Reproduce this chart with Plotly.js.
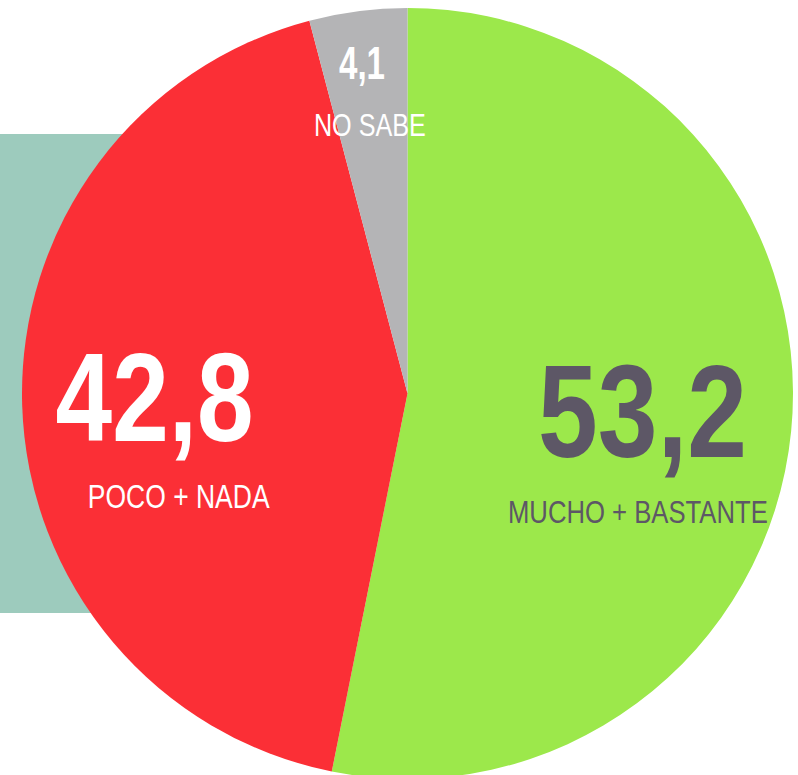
<!DOCTYPE html>
<html>
<head>
<meta charset="utf-8">
<script src="https://cdn.plot.ly/plotly-3.0.1.min.js"></script>
<style>
html,body{margin:0;padding:0;overflow:hidden;background:#fff;}
#chart{width:798px;height:787px;}
</style>
</head>
<body>
<div id="chart"></div>
<script>
const labels = ["MUCHO + BASTANTE", "POCO + NADA", "NO SABE"];
const values = [53.2, 42.8, 4.1];
const valueLabels = ["53,2", "42,8", "4,1"];
const colors = ["#9ce84b", "#fb2f36", "#b4b4b6"];

const W = 798, H = 787;
const ML = 22, MR = 5;
const FONT = "'Liberation Sans', Arial, sans-serif";
function px(x){return (x - ML)/(W - ML - MR);}
function py(y){return (H-y)/H;}

const trace = {
  type: "pie",
  labels: labels,
  values: values,
  marker: {colors: colors, line: {width: 0}},
  sort: false,
  direction: "clockwise",
  rotation: 0,
  textinfo: "none",
  hoverinfo: "label+value",
  domain: {x: [0, 1], y: [0, 1]},
  showlegend: false
};

// styling: position (px), font size, colour, target rendered width (px)
const bigStyle = [
  {x: 642, y: 412, size: 132, color: "#5d5766", w: 209},
  {x: 154, y: 397, size: 127, color: "#ffffff", w: 198},
  {x: 362, y: 63, size: 46, color: "#ffffff", w: 46}
];
const smallStyle = [
  {x: 638, y: 512, size: 31, color: "#5d5766", w: 260},
  {x: 179, y: 496, size: 34, color: "#ffffff", w: 182},
  {x: 370, y: 126, size: 31, color: "#ffffff", w: 112}
];

const annotations = [];
const targetWidths = [];
for (let i = 0; i < labels.length; i++) {
  annotations.push({
    xref: "paper", yref: "paper", x: px(bigStyle[i].x), y: py(bigStyle[i].y),
    xanchor: "center", yanchor: "middle", showarrow: false,
    text: "<b>" + valueLabels[i] + "</b>",
    font: {family: FONT, size: bigStyle[i].size, color: bigStyle[i].color}
  });
  targetWidths.push(bigStyle[i].w);
  annotations.push({
    xref: "paper", yref: "paper", x: px(smallStyle[i].x), y: py(smallStyle[i].y),
    xanchor: "center", yanchor: "middle", showarrow: false,
    text: labels[i],
    font: {family: FONT, size: smallStyle[i].size, color: smallStyle[i].color}
  });
  targetWidths.push(smallStyle[i].w);
}

const layout = {
  width: W, height: H,
  margin: {l: ML, r: MR, t: 0, b: 0, pad: 0},
  paper_bgcolor: "#ffffff",
  plot_bgcolor: "#ffffff",
  showlegend: false,
  shapes: [{
    type: "rect", xref: "paper", yref: "paper", layer: "below",
    x0: px(0), x1: px(150), y0: py(613), y1: py(134),
    fillcolor: "#9dcbbd", line: {width: 0}
  }],
  annotations: annotations
};

Plotly.newPlot("chart", [trace], layout, {displayModeBar: false, staticPlot: true}).then(function(gd){
  // condense the lettering horizontally (narrow typeface look)
  const texts = gd.querySelectorAll("g.annotation text.annotation-text");
  texts.forEach(function(el, idx){
    const bb = el.getBBox();
    if (!bb.width) return;
    const s = targetWidths[idx] / bb.width;
    const cx = bb.x + bb.width / 2;
    const prev = el.getAttribute("transform") || "";
    el.setAttribute("transform", prev + " translate(" + (cx * (1 - s)) + ",0) scale(" + s + ",1)");
  });
});
</script>
</body>
</html>
